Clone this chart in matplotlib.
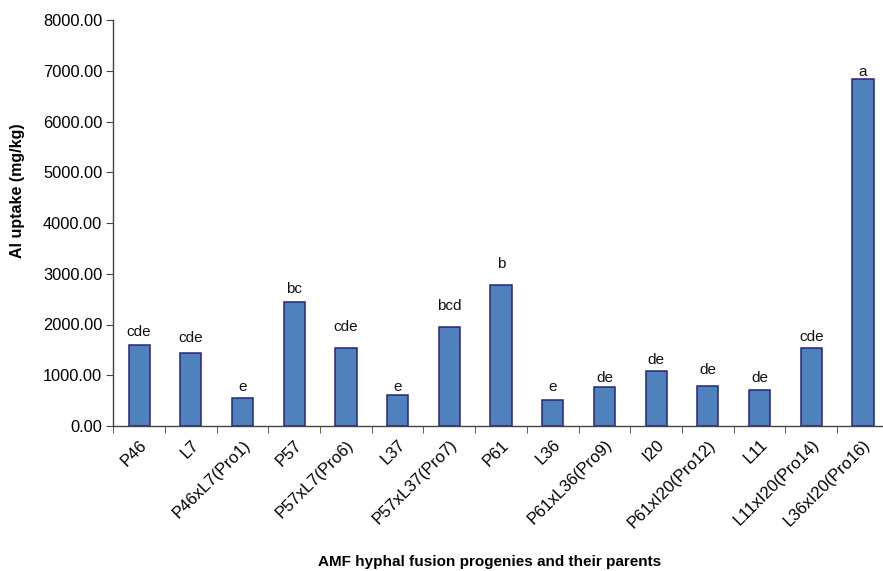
import matplotlib
matplotlib.use("Agg")
import matplotlib.pyplot as plt
import numpy as np

plt.rcParams['font.family'] = ['Liberation Sans', 'DejaVu Sans']

# Al uptake per fungal isolate / progeny
isolates = ['P46', 'L7', 'P46xL7(Pro1)', 'P57', 'P57xL7(Pro6)', 'L37',
            'P57xL37(Pro7)', 'P61', 'L36', 'P61xL36(Pro9)', 'I20',
            'P61xI20(Pro12)', 'L11', 'L11xI20(Pro14)', 'L36xI20(Pro16)']
al_uptake = [1605, 1430, 560, 2445, 1546, 605, 1946, 2775, 520, 769, 1079,
             797, 704, 1538, 6831]
# significance letters and the height they sit at
sig_letters = ['cde', 'cde', 'e', 'bc', 'cde', 'e', 'bcd', 'b', 'e', 'de',
               'de', 'de', 'de', 'cde', 'a']
letter_y = [1775, 1656, 690, 2611, 1873, 690, 2276, 3116, 690, 868, 1217,
            1020, 868, 1676, 6896]

fig = plt.figure(figsize=(8.83, 5.71), dpi=100)
ax = fig.add_axes([113.3 / 883, 1 - 426 / 571, 775.5 / 883, 406 / 571])

x = np.arange(len(isolates))
ax.bar(x, al_uptake, width=0.41, color='#4f81bd', edgecolor='#28257a',
       linewidth=1.1, zorder=3)

for xi, lab, ly in zip(x, sig_letters, letter_y):
    ax.text(xi, ly, lab, ha='center', va='baseline', fontsize=11, color='#111111')

ax.set_xlim(-0.5, len(isolates) - 0.5)
ax.set_ylim(0, 8000)
ax.set_yticks(np.arange(0, 8001, 1000))
ax.set_yticklabels([f'{v:.2f}' for v in np.arange(0, 8001, 1000)], fontsize=11.8)

ax.set_xticks(x)
ax.set_xticklabels(isolates, rotation=45, ha='right', rotation_mode='anchor',
                   fontsize=12)
ax.set_xticks(np.arange(-0.5, len(isolates), 1), minor=True)
ax.tick_params(axis='x', which='major', length=0, pad=8)
ax.tick_params(axis='x', which='minor', length=5, color='#444444')
ax.tick_params(axis='y', length=5, color='#444444', pad=3)

for side in ['top', 'right']:
    ax.spines[side].set_visible(False)
for side in ['left', 'bottom']:
    ax.spines[side].set_color('#444444')
    ax.spines[side].set_linewidth(1.0)

fig.text(18 / 883, 1 - 191 / 571, 'Al uptake (mg/kg)', rotation=90,
         ha='center', va='center', fontsize=11.5, fontweight='bold')
fig.text(490 / 883, 1 - 562 / 571, 'AMF hyphal fusion progenies and their parents',
         ha='center', va='center', fontsize=11, fontweight='bold')

fig.savefig('out.png', dpi=100)
